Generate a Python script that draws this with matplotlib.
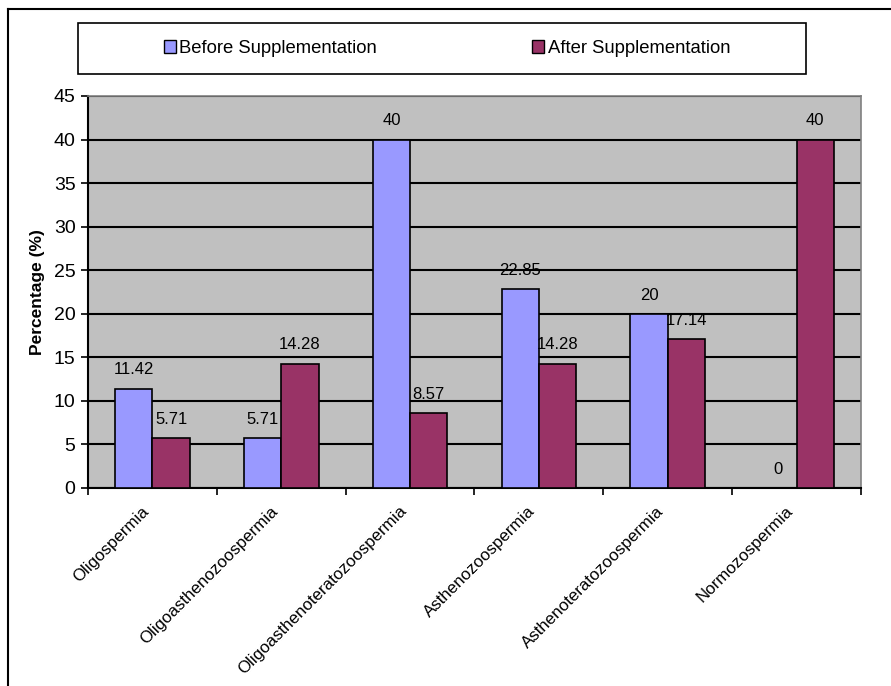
import numpy as np
import matplotlib.pyplot as plt
from matplotlib.patches import Rectangle, Patch
from matplotlib.lines import Line2D
from matplotlib.transforms import ScaledTranslation

plt.rcParams['font.family'] = ['Liberation Sans', 'DejaVu Sans']

categories = ['Oligospermia', 'Oligoasthenozoospermia', 'Oligoasthenoteratozoospermia',
              'Asthenozoospermia', 'Asthenoteratozoospermia', 'Normozospermia']
before = [11.42, 5.71, 40, 22.85, 20, 0]
after = [5.71, 14.28, 8.57, 14.28, 17.14, 40]
before_lbl = ['11.42', '5.71', '40', '22.85', '20', '0']
after_lbl = ['5.71', '14.28', '8.57', '14.28', '17.14', '40']

c_before = '#9999FF'
c_after = '#993366'

fig = plt.figure(figsize=(8.91, 6.86), dpi=100)
ax = fig.add_axes([88 / 891, 1 - 488 / 686, 773 / 891, 392 / 686])
ax.set_facecolor('#C0C0C0')

x = np.arange(len(categories))
w = 0.29
b1 = ax.bar(x - w / 2, before, w, color=c_before, edgecolor='black', linewidth=1.2, zorder=3)
b2 = ax.bar(x + w / 2, after, w, color=c_after, edgecolor='black', linewidth=1.2, zorder=3)

for bars, labels in ((b1, before_lbl), (b2, after_lbl)):
    for r, t in zip(bars, labels):
        ax.annotate(t, (r.get_x() + r.get_width() / 2, r.get_height()),
                    xytext=(0, 8), textcoords='offset points',
                    ha='center', va='bottom', fontsize=12, zorder=4)

ax.set_xlim(-0.5, len(categories) - 0.5)
ax.set_ylim(0, 45)
ax.set_yticks(np.arange(0, 50, 5))
ax.yaxis.grid(True, color='black', linewidth=1.5, zorder=1)
ax.set_axisbelow(True)
ax.tick_params(axis='y', labelsize=14, length=5, width=1.2, direction='out', pad=4)

ax.set_xticks(x)
ax.set_xticklabels(categories, rotation=45, ha='right', va='center',
                   rotation_mode='anchor', fontsize=12.2)
ax.tick_params(axis='x', which='major', length=0, pad=15)
ax.set_xticks(np.arange(-0.5, len(categories)), minor=True)
ax.tick_params(axis='x', which='minor', length=5, width=1.2, direction='out')
shift = ScaledTranslation(-0.06, 0, fig.dpi_scale_trans)
for lbl in ax.get_xticklabels():
    lbl.set_transform(lbl.get_transform() + shift)

ax.set_ylabel('Percentage (%)', fontsize=12.5, fontweight='bold', labelpad=6)

for side in ('top', 'right'):
    ax.spines[side].set_color('#808080')
    ax.spines[side].set_linewidth(1.2)
for side in ('left', 'bottom'):
    ax.spines[side].set_color('black')
    ax.spines[side].set_linewidth(1.5)

# legend box
fig.patches.append(Rectangle((78 / 891, 1 - 74 / 686), 728 / 891, 51 / 686,
                             transform=fig.transFigure, facecolor='white',
                             edgecolor='black', linewidth=1.2))
handles = [Patch(facecolor=c_before, edgecolor='black', linewidth=1),
           Patch(facecolor=c_after, edgecolor='black', linewidth=1)]
fig.legend(handles, ['Before Supplementation', 'After Supplementation'],
           loc='center', bbox_to_anchor=(447 / 891, 1 - 48.5 / 686), ncol=2,
           frameon=False, fontsize=13.3, handlelength=0.65, handleheight=0.65,
           handletextpad=0.2, columnspacing=8.4)

# outer frame (left and top edges)
fig.add_artist(Line2D([8 / 891, 8 / 891], [0, 1 - 9 / 686], transform=fig.transFigure,
                      color='black', linewidth=1.5))
fig.add_artist(Line2D([8 / 891, 1], [1 - 9 / 686, 1 - 9 / 686], transform=fig.transFigure,
                      color='black', linewidth=1.5))

fig.savefig('out.png', dpi=100)
